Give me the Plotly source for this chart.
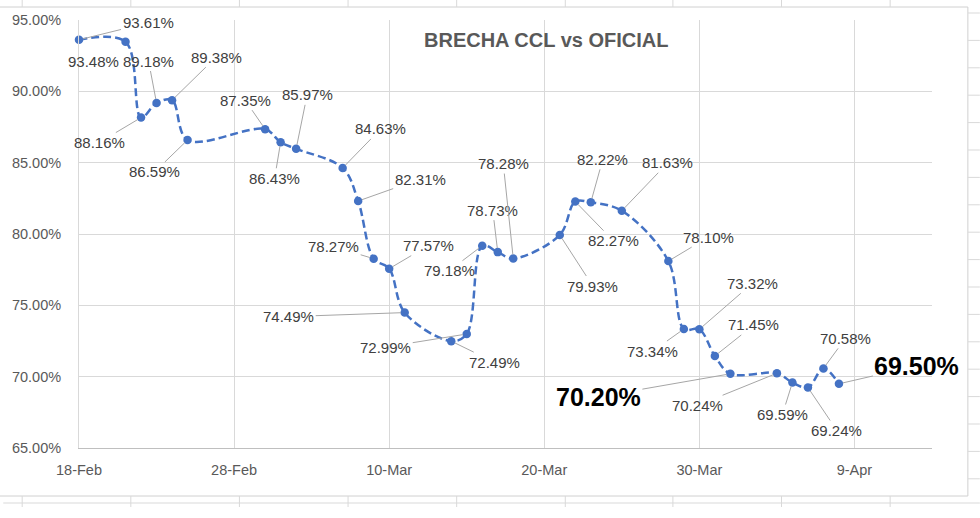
import plotly.graph_objects as go

# ---------------- data ----------------
dates = ["2022-02-18", "2022-02-21", "2022-02-22", "2022-02-23", "2022-02-24", "2022-02-25",
         "2022-03-02", "2022-03-03", "2022-03-04", "2022-03-07", "2022-03-08", "2022-03-09",
         "2022-03-10", "2022-03-11", "2022-03-14", "2022-03-15", "2022-03-16", "2022-03-17",
         "2022-03-18", "2022-03-21", "2022-03-22", "2022-03-23", "2022-03-25", "2022-03-28",
         "2022-03-29", "2022-03-30", "2022-03-31", "2022-04-01", "2022-04-04", "2022-04-05",
         "2022-04-06", "2022-04-07", "2022-04-08"]
brecha = [93.61, 93.48, 88.16, 89.18, 89.38, 86.59,
          87.35, 86.43, 85.97, 84.63, 82.31, 78.27,
          77.57, 74.49, 72.49, 72.99, 79.18, 78.73,
          78.28, 79.93, 82.27, 82.22, 81.63, 78.10,
          73.34, 73.32, 71.45, 70.20, 70.24, 69.59,
          69.24, 70.58, 69.50]
x_tick_vals = ["2022-02-18", "2022-02-28", "2022-03-10", "2022-03-20", "2022-03-30", "2022-04-09"]
x_tick_text = ["18-Feb", "28-Feb", "10-Mar", "20-Mar", "30-Mar", "9-Apr"]
y_tick_vals = [65, 70, 75, 80, 85, 90, 95]
y_tick_text = [f"{v:.2f}%" for v in y_tick_vals]
title_text = "BRECHA CCL vs OFICIAL"

# ---------------- label layout (pixel offsets of each data label) ----------------
label_offsets = [(69, -17), (-32, 20), (-42, 25), (-8, -42), (44, -43), (-33, 32),
                 (-20, -29), (-6, 36), (11, -54), (38, -39), (62, -22), (-40, -12),
                 (39, -23), (-116, 4), (43, 21), (-81, 13), (-33, 25), (-5, -42),
                 (-10, -95), (33, 51), (38, 39), (12, -43), (46, -48), (40, -24),
                 (-31, 22), (53, -46), (39, -31), (-132, 23), (-79, 32), (-10, 32),
                 (29, 43), (22, -30), (78, -18)]
no_leader = {"2022-02-21"}
highlight = {"2022-04-01", "2022-04-08"}

# ---------------- geometry ----------------
W, H = 980, 518
ML, MR, MT, MB = 76, 48, 20, 70
PW, PH = W - ML - MR, H - MT - MB


def px(xp):
    return (xp - ML) / PW


def py(yp):
    return (H - MB - yp) / PH


BLUE = "#4472C4"
GRID = "#D9D9D9"
FONT = "Liberation Sans, Arial, sans-serif"

fig = go.Figure()
fig.add_trace(go.Scatter(
    x=dates, y=brecha, mode="lines+markers",
    line=dict(color=BLUE, width=2.5, dash="8px,4px", shape="spline", smoothing=1),
    marker=dict(color=BLUE, size=8.5),
    cliponaxis=False, hoverinfo="x+y", showlegend=False,
))

annotations = []
for d, v, (ax, ay) in zip(dates, brecha, label_offsets):
    big = d in highlight
    font = dict(family=FONT, size=25 if big else 15,
                color="#000000" if big else "#404040")
    text = f"<b>{v:.2f}%</b>" if big else f"{v:.2f}%"
    if d in no_leader:
        annotations.append(dict(x=d, y=v, xref="x", yref="y", text=text, showarrow=False,
                                xshift=ax, yshift=-ay, xanchor="center", yanchor="middle",
                                font=font))
    else:
        annotations.append(dict(x=d, y=v, xref="x", yref="y", text=text, showarrow=True,
                                ax=ax, ay=ay, arrowhead=0, arrowwidth=1, arrowcolor="#A6A6A6",
                                standoff=4, font=font))

annotations.append(dict(x=px(545), y=py(40), xref="paper", yref="paper", showarrow=False,
                        xanchor="center", yanchor="middle",
                        text=f"<b>{title_text}</b>",
                        font=dict(family=FONT, size=20, color="#595959")))

# decorative worksheet / chart-frame lines
shapes = [dict(type="rect", xref="paper", yref="paper", x0=px(-10), x1=px(968), y0=py(496), y1=py(7),
               line=dict(color="#D0D0D0", width=1), layer="below")]
for cx in [19, 128, 237, 346, 455, 564, 672, 781, 890]:
    shapes.append(dict(type="line", xref="paper", yref="paper", x0=px(cx), x1=px(cx),
                       y0=py(0), y1=py(7), line=dict(color=GRID, width=1)))
    shapes.append(dict(type="line", xref="paper", yref="paper", x0=px(cx), x1=px(cx),
                       y0=py(496), y1=py(507), line=dict(color=GRID, width=1)))
shapes.append(dict(type="line", xref="paper", yref="paper", x0=px(0), x1=px(980),
                   y0=py(503), y1=py(503), line=dict(color=GRID, width=1)))
k = 0
while 13 + 27.4 * k < 505:
    ry = 13 + 27.4 * k
    shapes.append(dict(type="line", xref="paper", yref="paper", x0=px(968), x1=px(980),
                       y0=py(ry), y1=py(ry), line=dict(color=GRID, width=1)))
    k += 1

fig.update_layout(
    width=W, height=H, margin=dict(l=ML, r=MR, t=MT, b=MB),
    paper_bgcolor="white", plot_bgcolor="white",
    font=dict(family=FONT, color="#595959"),
    annotations=annotations, shapes=shapes,
    xaxis=dict(type="date", range=["2022-02-18", "2022-04-14"],
               tickvals=x_tick_vals, ticktext=x_tick_text,
               showgrid=True, gridcolor=GRID, gridwidth=1,
               showline=True, linecolor="#BFBFBF", linewidth=1,
               ticks="", ticklabelstandoff=9,
               tickfont=dict(family=FONT, size=14.5, color="#595959")),
    yaxis=dict(range=[65, 95], tickvals=y_tick_vals, ticktext=y_tick_text,
               showgrid=True, gridcolor=GRID, gridwidth=1, zeroline=False,
               showline=True, linecolor=GRID, linewidth=1,
               ticks="", ticklabelstandoff=14,
               tickfont=dict(family=FONT, size=14.5, color="#595959")),
)

fig.write_html("out.html")
